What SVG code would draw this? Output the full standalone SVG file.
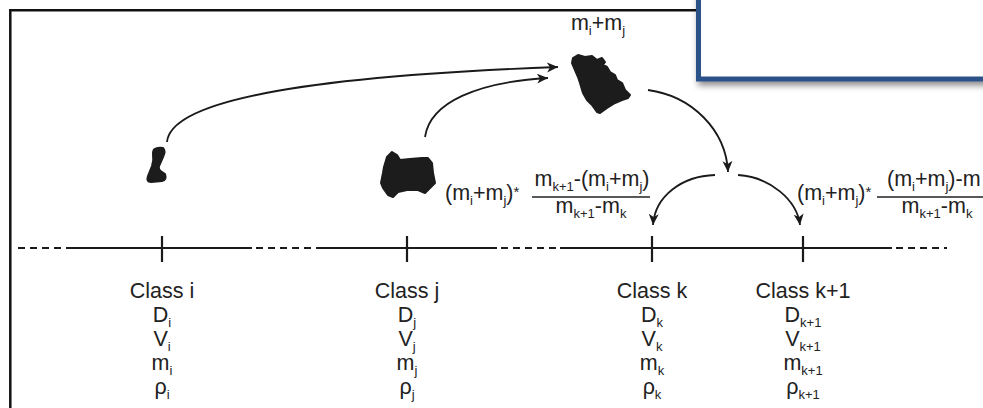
<svg xmlns="http://www.w3.org/2000/svg" width="983" height="408" viewBox="0 0 983 408">
  <style>
    text { font-family: "Liberation Sans", Arial, sans-serif; font-size: 21.5px; fill: #222; }
    .sub { font-size: 13px; }
    .star { font-size: 15px; }
    .axis { stroke: #1a1a1a; stroke-width: 2.2; fill: none; }
    .dash { stroke: #1a1a1a; stroke-width: 2.2; fill: none; stroke-dasharray: 7 5; }
    .tick { stroke: #1a1a1a; stroke-width: 2.2; }
    .arrow { stroke: #1a1a1a; stroke-width: 1.8; fill: none; marker-end: url(#head); }
    .blob { fill: #1c1c1c; stroke: #1c1c1c; stroke-width: 2; stroke-linejoin: round; }
    .frac { stroke: #222; stroke-width: 1.4; }
  </style>
  <defs>
    <marker id="head" markerUnits="userSpaceOnUse" markerWidth="14" markerHeight="12" refX="11" refY="5" orient="auto">
      <path d="M0,0 L11,5 L0,10 L3,5 Z" fill="#1a1a1a"/>
    </marker>
    <filter id="shadow" x="-10%" y="-20%" width="130%" height="160%">
      <feDropShadow dx="2" dy="4" stdDeviation="3" flood-color="#000" flood-opacity="0.45"/>
    </filter>
  </defs>

  <rect width="983" height="408" fill="#fff"/>

  <!-- outer frame -->
  <path d="M10.3,408 V10.3 H700" fill="none" stroke="#111" stroke-width="2.5"/>

  <!-- blue panel overlapping the top-right corner -->
  <rect id="panel" x="698.5" y="-20" width="320" height="99" fill="#fff" stroke="#2c5188" stroke-width="5" filter="url(#shadow)"/>

  <!-- size-class axis -->
  <g id="axis">
    <line class="dash" x1="18" y1="248" x2="70" y2="248"/>
    <line class="axis" x1="70" y1="248" x2="252" y2="248"/>
    <line class="dash" x1="256" y1="248" x2="318" y2="248"/>
    <line class="axis" x1="318" y1="248" x2="497" y2="248"/>
    <line class="dash" x1="501" y1="248" x2="560" y2="248"/>
    <line class="axis" x1="560" y1="248" x2="892" y2="248"/>
    <line class="dash" x1="896" y1="248" x2="947" y2="248"/>
  </g>

  <!-- class i -->
  <g id="class-i">
    <line class="tick" x1="162" y1="236" x2="162" y2="262"/>
    <text x="162" y="298" text-anchor="middle">Class i</text>
    <text x="162" y="322" text-anchor="middle">D<tspan class="sub" dy="5">i</tspan></text>
    <text x="162" y="346" text-anchor="middle">V<tspan class="sub" dy="5">i</tspan></text>
    <text x="162" y="370" text-anchor="middle">m<tspan class="sub" dy="5">i</tspan></text>
    <text x="162" y="394" text-anchor="middle">ρ<tspan class="sub" dy="5">i</tspan></text>
  </g>

  <!-- class j -->
  <g id="class-j">
    <line class="tick" x1="407" y1="236" x2="407" y2="262"/>
    <text x="407" y="298" text-anchor="middle">Class j</text>
    <text x="407" y="322" text-anchor="middle">D<tspan class="sub" dy="5">j</tspan></text>
    <text x="407" y="346" text-anchor="middle">V<tspan class="sub" dy="5">j</tspan></text>
    <text x="407" y="370" text-anchor="middle">m<tspan class="sub" dy="5">j</tspan></text>
    <text x="407" y="394" text-anchor="middle">ρ<tspan class="sub" dy="5">j</tspan></text>
  </g>

  <!-- class k -->
  <g id="class-k">
    <line class="tick" x1="652" y1="236" x2="652" y2="262"/>
    <text x="652" y="298" text-anchor="middle">Class k</text>
    <text x="652" y="322" text-anchor="middle">D<tspan class="sub" dy="5">k</tspan></text>
    <text x="652" y="346" text-anchor="middle">V<tspan class="sub" dy="5">k</tspan></text>
    <text x="652" y="370" text-anchor="middle">m<tspan class="sub" dy="5">k</tspan></text>
    <text x="652" y="394" text-anchor="middle">ρ<tspan class="sub" dy="5">k</tspan></text>
  </g>

  <!-- class k+1 -->
  <g id="class-k1">
    <line class="tick" x1="803" y1="236" x2="803" y2="262"/>
    <text x="803" y="298" text-anchor="middle">Class k+1</text>
    <text x="803" y="322" text-anchor="middle">D<tspan class="sub" dy="5">k+1</tspan></text>
    <text x="803" y="346" text-anchor="middle">V<tspan class="sub" dy="5">k+1</tspan></text>
    <text x="803" y="370" text-anchor="middle">m<tspan class="sub" dy="5">k+1</tspan></text>
    <text x="803" y="394" text-anchor="middle">ρ<tspan class="sub" dy="5">k+1</tspan></text>
  </g>

  <!-- particle of class i -->
  <g id="particle-i">
    <path class="blob" d="M155,149 Q159,147 163,148 Q166,151 163,157 L159,166 Q158,170 162,172 L165,174 Q167,180 162,181 L151,182 Q146,182 148,176 L152,166 Q154,160 153,154 Q153,150 155,149 Z"/>
  </g>

  <!-- particle of class j -->
  <g id="particle-j">
    <path class="blob" d="M392,152 L397,155 L400,160 L410,159 L422,158 L428,158 L432,163 L433,173 L435,183 L430,188 L425,193 L418,190 L407,190 L398,192 L393,197 L388,195 L383,188 L381,183 L383,173 L384,167 L387,157 Z"/>
  </g>

  <!-- merged particle -->
  <g id="particle-merged">
    <path class="blob" d="M573,58 L578,55 L585,57 L592,56 L597,60 L602,58 L605,62 L603,65 L607,67 L610,72 L615,75 L617,80 L622,83 L625,90 L630,95 L628,98 L622,100 L615,103 L607,108 L600,113 L597,112 L592,105 L587,100 L583,93 L580,83 L578,77 L575,70 L572,63 Z"/>
    <text x="598" y="30" text-anchor="middle">m<tspan class="sub" dy="5">i</tspan><tspan dy="-5">+m</tspan><tspan class="sub" dy="5">j</tspan></text>
  </g>

  <!-- fraction into class k -->
  <g id="fraction-k">
    <text x="445" y="200">(m<tspan class="sub" dy="5">i</tspan><tspan dy="-5">+m</tspan><tspan class="sub" dy="5">j</tspan><tspan dy="-5">)</tspan><tspan class="star" dy="-3">*</tspan></text>
    <text x="592" y="186" text-anchor="middle">m<tspan class="sub" dy="5">k+1</tspan><tspan dy="-5">-(m</tspan><tspan class="sub" dy="5">i</tspan><tspan dy="-5">+m</tspan><tspan class="sub" dy="5">j</tspan><tspan dy="-5">)</tspan></text>
    <line class="frac" x1="532" y1="197" x2="650" y2="197"/>
    <text x="591" y="213" text-anchor="middle">m<tspan class="sub" dy="5">k+1</tspan><tspan dy="-5">-m</tspan><tspan class="sub" dy="5">k</tspan></text>
  </g>

  <!-- fraction into class k+1 -->
  <g id="fraction-k1">
    <text x="797" y="200">(m<tspan class="sub" dy="5">i</tspan><tspan dy="-5">+m</tspan><tspan class="sub" dy="5">j</tspan><tspan dy="-5">)</tspan><tspan class="star" dy="-3">*</tspan></text>
    <text x="887" y="186">(m<tspan class="sub" dy="5">i</tspan><tspan dy="-5">+m</tspan><tspan class="sub" dy="5">j</tspan><tspan dy="-5">)-m</tspan></text>
    <line class="frac" x1="877" y1="197" x2="990" y2="197"/>
    <text x="937" y="213" text-anchor="middle">m<tspan class="sub" dy="5">k+1</tspan><tspan dy="-5">-m</tspan><tspan class="sub" dy="5">k</tspan></text>
  </g>

  <!-- connectors -->
  <g id="connectors">
    <path class="arrow" d="M167,142 C170,108 260,78 558,67"/>
    <path class="arrow" d="M425,137 C430,102 478,82 548,78"/>
    <path class="arrow" d="M648,90 C692,96 726,130 728,172"/>
    <path class="arrow" d="M715,175 C682,176 655,196 653,225"/>
    <path class="arrow" d="M738,175 C770,177 797,200 800,225"/>
  </g>
</svg>
